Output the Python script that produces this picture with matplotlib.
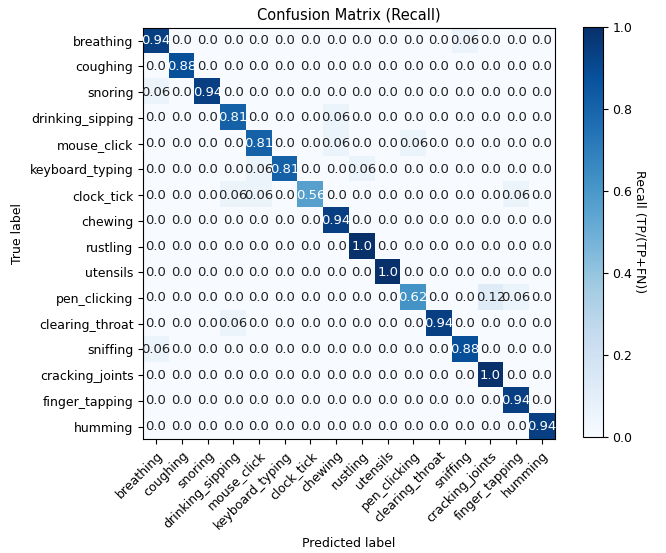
import numpy as np
import matplotlib
matplotlib.use("Agg")
import matplotlib.pyplot as plt

classes = ["breathing", "coughing", "snoring", "drinking_sipping", "mouse_click",
           "keyboard_typing", "clock_tick", "chewing", "rustling", "utensils",
           "pen_clicking", "clearing_throat", "sniffing", "cracking_joints",
           "finger_tapping", "humming"]

# per-class recall, rounded to two places; off-diagonal confusions listed as (row, col, value)
diag_recall = [0.94, 0.88, 0.94, 0.81, 0.81, 0.81, 0.56, 0.94,
               1.0, 1.0, 0.62, 0.94, 0.88, 1.0, 0.94, 0.94]
off_diag = [(0, 12, 0.06), (2, 0, 0.06), (3, 7, 0.06), (4, 7, 0.06), (4, 10, 0.06),
            (5, 4, 0.06), (5, 8, 0.06), (6, 3, 0.06), (6, 4, 0.06), (6, 14, 0.06),
            (10, 13, 0.12), (10, 14, 0.06), (11, 3, 0.06), (12, 0, 0.06)]

n = len(classes)
cm = np.zeros((n, n))
cm[np.arange(n), np.arange(n)] = diag_recall
for r, c, v in off_diag:
    cm[r, c] = v

plt.rcParams["font.size"] = 9

fig = plt.figure(figsize=(6.66, 5.53), dpi=100)
ax = fig.add_axes([0.215, 0.204, 0.618, 0.747])
cax = fig.add_axes([0.875, 0.21, 0.03, 0.742])

im = ax.imshow(cm, interpolation="nearest", cmap=plt.cm.Blues, vmin=0, vmax=1)
cbar = fig.colorbar(im, cax=cax)
cbar.set_label("Recall (TP/(TP+FN))", rotation=270, labelpad=10)

ax.set_xticks(np.arange(n))
ax.set_yticks(np.arange(n))
ax.set_xticklabels(classes, rotation=45, ha="right", rotation_mode="anchor")
ax.set_yticklabels(classes)
ax.set_title("Confusion Matrix (Recall)", fontsize=10.5)
ax.set_xlabel("Predicted label")
ax.set_ylabel("True label")

thresh = 0.5
for i in range(n):
    for j in range(n):
        v = round(float(cm[i, j]), 2)
        ax.text(j, i, f"{v}", ha="center", va="center",
                color="white" if v > thresh else "#222222", fontsize=9.5)

fig.savefig("out.png", dpi=100)
